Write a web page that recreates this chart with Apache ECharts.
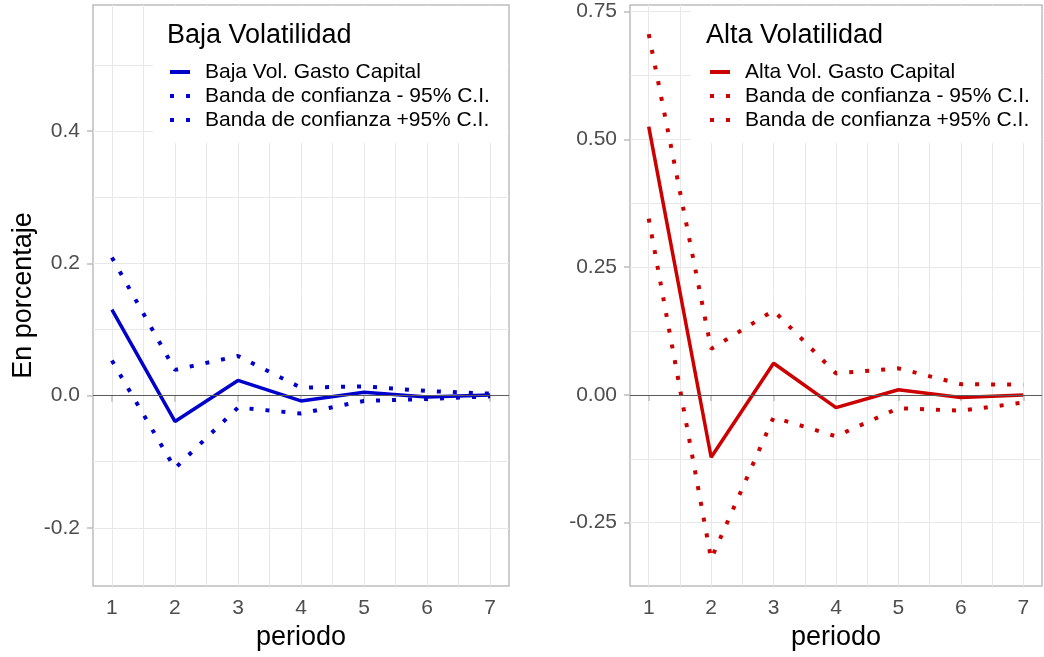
<!DOCTYPE html>
<html lang="es">
<head>
    <meta charset="UTF-8">
    <title>Baja y Alta Volatilidad</title>
    <script src="https://cdn.jsdelivr.net/npm/echarts@6/dist/echarts.min.js"></script>
    <style>
        html, body { margin: 0; padding: 0; background: #fff; }
    </style>
</head>
<body>
<div id="main" style="width: 1044px;height:657px;"></div>

<script type="text/javascript">
    // periodos (eje x)
    var periodos = [1, 2, 3, 4, 5, 6, 7];
    var xGridVals = [1, 1.5, 2, 2.5, 3, 3.5, 4, 4.5, 5, 5.5, 6, 6.5, 7];

    // Baja volatilidad
    var bajaGasto = [0.130, -0.039, 0.023, -0.008, 0.005, -0.002, 0.001];
    var bajaInf = [0.053, -0.110, -0.018, -0.027, -0.008, -0.005, -0.001];
    var bajaSup = [0.209, 0.039, 0.060, 0.012, 0.014, 0.007, 0.003];
    var bajaTicks = [-0.2, 0, 0.2, 0.4];
    var bajaGridVals = [-0.2, -0.1, 0, 0.1, 0.2, 0.3, 0.4, 0.5];

    // Alta volatilidad
    var altaGasto = [0.525, -0.122, 0.062, -0.025, 0.010, -0.005, 0.000];
    var altaInf = [0.345, -0.321, -0.044, -0.081, -0.026, -0.031, -0.015];
    var altaSup = [0.706, 0.090, 0.165, 0.042, 0.052, 0.021, 0.020];
    var altaTicks = [-0.25, 0, 0.25, 0.5, 0.75];
    var altaGridVals = [-0.25, -0.125, 0, 0.125, 0.25, 0.375, 0.5, 0.625, 0.75];

    var FONT = "'Liberation Sans', Arial, sans-serif";
    var AZUL = '#0000CD';
    var ROJO = '#CD0000';
    var BORDE = '#bdbdbd';
    var REJILLA = '#e8e8e8';

    function pares(vals) {
        return periodos.map(function (p, i) { return [p, vals[i]]; });
    }

    function ejeX(grid, nombre) {
        return {
            type: 'value', gridIndex: grid, min: 0.7, max: 7.3,
            axisLine: {show: false},
            axisTick: {show: false, customValues: xGridVals},
            axisLabel: {customValues: periodos, fontSize: 21, color: '#4d4d4d', fontFamily: FONT, margin: 12},
            splitLine: {show: true, lineStyle: {color: REJILLA, width: 1}},
            name: nombre, nameLocation: 'middle', nameGap: 37,
            nameTextStyle: {fontSize: 27, color: '#000', fontFamily: FONT}
        };
    }
    function ejeXTicks(grid) {
        return {
            type: 'value', gridIndex: grid, min: 0.7, max: 7.3, position: 'bottom', offset: 0,
            axisLine: {show: false},
            axisTick: {show: true, customValues: periodos, length: 6, lineStyle: {color: BORDE, width: 1.5}},
            axisLabel: {show: false},
            splitLine: {show: false}
        };
    }
    function ejeY(grid, min, max, gridVals, ticks, dec, nombre) {
        return {
            type: 'value', gridIndex: grid, min: min, max: max,
            axisLine: {show: false},
            axisTick: {show: false, customValues: gridVals},
            axisLabel: {
                customValues: ticks, fontSize: 21, color: '#4d4d4d', fontFamily: FONT, margin: 13,
                formatter: function (v) { return v.toFixed(dec); }
            },
            splitLine: {show: true, lineStyle: {color: REJILLA, width: 1}},
            name: nombre, nameLocation: 'middle', nameGap: 56, nameRotate: 90,
            nameTextStyle: {fontSize: 27, color: '#000', fontFamily: FONT}
        };
    }
    function ejeYTicks(grid, min, max, ticks) {
        return {
            type: 'value', gridIndex: grid, min: min, max: max, position: 'left', offset: 0,
            axisLine: {show: false},
            axisTick: {show: true, customValues: ticks, length: 6, lineStyle: {color: BORDE, width: 1.5}},
            axisLabel: {show: false},
            splitLine: {show: false}
        };
    }
    function linea(nombre, vals, color, idx, punteada) {
        var s = {
            name: nombre, type: 'line', xAxisIndex: idx, yAxisIndex: idx,
            data: pares(vals), symbol: 'none', z: 3,
            lineStyle: punteada
                ? {color: color, width: 4, type: [4, 12], cap: 'butt'}
                : {color: color, width: 3.5},
            itemStyle: {color: color}
        };
        if (!punteada) {
            s.z = 4;
            s.markLine = {
                silent: true, symbol: ['none', 'none'], label: {show: false},
                lineStyle: {color: '#5a5a5a', width: 1.2, type: 'solid'},
                data: [{yAxis: 0}]
            };
        }
        return s;
    }
    function leyenda(left, nombres) {
        return {
            left: left, top: 60, orient: 'vertical', padding: 0, itemGap: 0,
            itemWidth: 20, itemHeight: 14, z: 6,
            data: nombres,
            itemStyle: {opacity: 0},
            lineStyle: {width: 4},
            formatter: function (n) { return '{t|' + n + '}'; },
            textStyle: {
                fontSize: 21, color: '#000', fontFamily: FONT, lineHeight: 24,
                rich: {t: {fontSize: 21, fontFamily: FONT, color: '#000', padding: [0, 0, 0, 10], lineHeight: 24}}
            }
        };
    }

    var bajaNombres = ['Baja Vol. Gasto Capital', 'Banda de confianza - 95% C.I.', 'Banda de confianza +95% C.I.'];
    // nombres distintos para que la leyenda de la derecha tome el color rojo
    var altaNombres = ['Alta Vol. Gasto Capital', 'Banda de confianza - 95% C.I. ', 'Banda de confianza +95% C.I. '];

    var myChart = echarts.init(document.getElementById('main'));
    var option = {
        animation: false,
        backgroundColor: '#fff',
        textStyle: {fontFamily: FONT},
        title: [
            {text: 'Baja Volatilidad', left: 167, top: 22, padding: 0, z: 6,
                textStyle: {fontSize: 27, fontWeight: 'normal', color: '#000', fontFamily: FONT}},
            {text: 'Alta Volatilidad', left: 706, top: 22, padding: 0, z: 6,
                textStyle: {fontSize: 27, fontWeight: 'normal', color: '#000', fontFamily: FONT}}
        ],
        legend: [leyenda(168, bajaNombres), leyenda(708, altaNombres)],
        graphic: [
            {type: 'rect', left: 153, top: 6, z: 5, silent: true,
                shape: {width: 355, height: 137}, style: {fill: '#fff'}},
            {type: 'rect', left: 691, top: 6, z: 5, silent: true,
                shape: {width: 350, height: 137}, style: {fill: '#fff'}}
        ],
        grid: [
            {left: 93, right: 535, top: 5, bottom: 71, show: true, borderColor: BORDE, borderWidth: 1.5, backgroundColor: 'transparent'},
            {left: 630, right: 2, top: 5, bottom: 71, show: true, borderColor: BORDE, borderWidth: 1.5, backgroundColor: 'transparent'}
        ],
        xAxis: [ejeX(0, 'periodo'), ejeX(1, 'periodo'), ejeXTicks(0), ejeXTicks(1)],
        yAxis: [
            ejeY(0, -0.288, 0.591, bajaGridVals, bajaTicks, 1, 'En porcentaje'),
            ejeY(1, -0.374, 0.763, altaGridVals, altaTicks, 2, ''),
            ejeYTicks(0, -0.288, 0.591, bajaTicks),
            ejeYTicks(1, -0.374, 0.763, altaTicks)
        ],
        series: [
            linea(bajaNombres[0], bajaGasto, AZUL, 0, false),
            linea(bajaNombres[1], bajaInf, AZUL, 0, true),
            linea(bajaNombres[2], bajaSup, AZUL, 0, true),
            linea(altaNombres[0], altaGasto, ROJO, 1, false),
            linea(altaNombres[1], altaInf, ROJO, 1, true),
            linea(altaNombres[2], altaSup, ROJO, 1, true)
        ]
    };
    myChart.setOption(option);
</script>
</body>
</html>
